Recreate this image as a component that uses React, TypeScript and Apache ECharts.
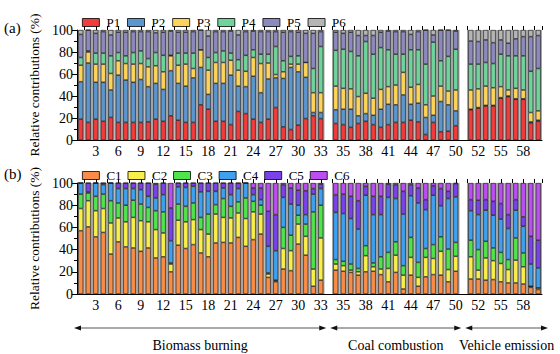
import React, { useEffect, useRef } from 'react';
import * as echarts from 'echarts';

const FONT = 'Liberation Serif';

const groupNames = ['Biomass burning', 'Coal combustion', 'Vehicle emission'];
const groupSizes = [33, 17, 10];

const pNames = ['P1', 'P2', 'P3', 'P4', 'P5', 'P6'];
const cNames = ['C1', 'C2', 'C3', 'C4', 'C5', 'C6'];
const pColors = ['#f03c3c', '#5b96cf', '#fdd45a', '#6fd49b', '#8c89bf', '#b5b5b5'];
const cColors = ['#f98d47', '#f8ef4b', '#4fe44b', '#3ea0ef', '#7a42eb', '#bc4ef1'];

// Panel (a): samples 1..60 (%)
const P1 = [19, 16, 19, 17, 20.5, 16, 16, 16, 16, 16.5, 19, 17, 22, 18, 16, 16, 32, 28, 17, 17, 14, 26, 24, 19, 16, 19, 29.5, 12, 9.5, 13.5, 19.5, 22, 19.5,
  15, 14, 11.5, 15, 17, 14, 11.5, 14, 16, 16, 18, 16.5, 5, 16, 7.5, 8, 13,
  27.5, 29, 31, 31, 38, 39.5, 37, 37, 15.5, 17];
const P2 = [34, 54, 33.5, 35.5, 25, 43, 38.5, 36.5, 39, 32, 32.5, 29, 41, 33.5, 33, 40.5, 34, 13.5, 34.5, 34.5, 45, 23, 24.5, 39, 27, 36.5, 27, 44, 56.5, 48.5, 37.5, 3, 5.5,
  12.5, 14, 16.5, 7, 7, 8.5, 16.5, 18.5, 16, 25, 14.5, 17, 15.5, 6.5, 27.5, 24, 13.5,
  0.5, 0.5, 0.5, 0.5, 0.5, 0.5, 0.5, 0.5, 1, 1];
const P3 = [15, 10, 16.5, 16.5, 15, 13, 15, 16.5, 14.5, 18, 16, 16, 13.5, 16.5, 20, 8.5, 16, 22, 19, 19, 13.5, 14.5, 14, 17, 26.5, 14.5, 3, 6, 3, 7, 13.5, 18, 18,
  21.5, 19, 18.5, 17.5, 18.5, 15.5, 18, 16, 18, 20.5, 15.5, 17, 11.5, 17.5, 14, 12.5, 19,
  17.5, 17, 17.5, 16, 10, 5.5, 9.5, 8, 8.5, 8.5];
const P4 = [7, 1, 10, 10, 16, 7.5, 7, 10.5, 11.5, 7.5, 12, 15, 0.5, 11, 10, 14, 0, 11.5, 9, 10.5, 6.5, 9.5, 14.5, 7, 8.5, 8, 25.5, 10, 7, 7.5, 0, 22, 42,
  32.5, 35.5, 34, 37, 47, 40, 38, 33.5, 28, 16.5, 34, 31.5, 37, 49, 23, 31.5, 37,
  23.5, 22.5, 21.5, 22, 29.5, 31, 29.5, 31, 37.5, 38.5];
const P5 = [21, 19, 18, 19.5, 19, 18.5, 21.5, 19, 17.5, 24.5, 18, 21, 22, 19, 19, 19.5, 18, 19.5, 19, 17.5, 20, 22.5, 21.5, 17, 20.5, 20.5, 13.5, 26, 22.5, 21.5, 26.5, 32, 13.5,
  16.5, 14.5, 17.5, 18.5, 5.5, 17, 14, 17, 20.5, 20.5, 14, 16.5, 31, 6.5, 28, 24, 16.5,
  21, 20.5, 20.5, 19, 13, 11.5, 15.5, 17.5, 31.5, 30];
const P6 = [4, 0, 3, 1.5, 4.5, 2, 2, 1.5, 1.5, 1.5, 2.5, 2, 1, 2, 2, 1.5, 0, 5.5, 1.5, 1.5, 1, 4.5, 1.5, 1, 1.5, 1.5, 1.5, 2, 1.5, 2, 3, 3, 1.5,
  2, 3, 2, 5, 5, 5, 2, 1, 1.5, 1.5, 4, 1.5, 0, 4.5, 0, 0, 1,
  10, 10.5, 9, 11.5, 9, 12, 8, 6, 6, 5];

// Panel (b): samples 1..60 (%)
const C1 = [57, 60.5, 51.5, 55.5, 36, 47, 42.5, 41.5, 38.5, 41.5, 32.5, 33.5, 20, 44, 41, 44.5, 37, 33.5, 46, 46.5, 46, 51, 43, 49, 54, 15, 11, 22.5, 21, 45, 35, 7, 12.5,
  21.5, 20.5, 19.5, 17, 20, 20.5, 17.5, 11, 19.5, 4.5, 17, 7, 15.5, 17.5, 17, 11, 20.5,
  13.5, 13.5, 12.5, 13, 11, 10, 10, 9, 6, 4];
const C2 = [20, 23.5, 23.5, 21.5, 28, 21.5, 22.5, 27.5, 27.5, 23.5, 25.5, 21.5, 7, 22.5, 24, 22.5, 21, 20.5, 26, 22.5, 22.5, 22, 25, 25, 18, 3, 1, 18.5, 18, 18, 17, 15.5, 38,
  5.5, 5, 2, 3, 14.5, 4, 5, 12, 15.5, 12.5, 16, 8, 17.5, 14.5, 21.5, 11, 13.5,
  20, 8, 20, 17, 16.5, 12, 20.5, 15.5, 1, 1.5];
const C3 = [13, 7, 13, 13, 20, 13.5, 15, 15.5, 15, 13, 17, 19, 1, 14.5, 14, 15, 11, 18, 8.5, 17, 10.5, 10, 18.5, 9.5, 8, 1, 0.5, 19, 14, 8, 11, 51.5, 29.5,
  4, 4, 5.5, 3, 9, 3.5, 11, 14.5, 12, 8.5, 18, 13.5, 8, 12.5, 13, 18.5, 12.5,
  15, 18.5, 15, 11.5, 10, 9, 20, 12.5, 0, 0];
const C4 = [10, 1, 12, 8.5, 16, 13, 15, 10.5, 13, 10, 11.5, 15.5, 20, 15.5, 17, 15, 23, 20.5, 12, 9.5, 10.5, 12, 13.5, 6, 5, 24, 26.5, 27, 28, 9, 8.5, 16, 15,
  42.5, 43, 41, 35.5, 45.5, 43.5, 38, 49.5, 39, 46.5, 37.5, 53.5, 35, 44.5, 28, 45.5, 41,
  26.5, 31.5, 28, 29.5, 30, 28, 25, 24, 20, 18];
const C5 = [0, 8, 0, 1.5, 0, 5, 5, 5, 6, 12, 12.5, 10.5, 29.5, 3.5, 4, 3, 8, 7.5, 7.5, 4.5, 10.5, 5, 0, 6, 10.5, 31.5, 32.5, 11.5, 14.5, 13.5, 21.5, 5, 4,
  16, 17.5, 20, 25.5, 8, 16.5, 16.5, 12, 12.5, 20.5, 10, 13.5, 9, 8.5, 15.5, 6.5, 12,
  10, 13, 9.5, 12.5, 14, 12.5, 9.5, 8.5, 25, 25];
const C6 = [0, 0, 0, 0, 0, 0, 0, 0, 0, 0, 1, 0, 22.5, 0, 0, 0, 0, 0, 0, 0, 0, 0, 0, 4.5, 4.5, 25.5, 28.5, 1.5, 4.5, 6.5, 7, 5, 1,
  10.5, 10, 12, 16, 3, 12, 12, 1, 1.5, 7.5, 1.5, 4.5, 15, 2.5, 5, 7.5, 0.5,
  15, 15.5, 15, 16.5, 18.5, 28.5, 15, 30.5, 48, 51.5];

const pSeriesData = [P1, P2, P3, P4, P5, P6];
const cSeriesData = [C1, C2, C3, C4, C5, C6];

// layout
const GRID_LEFT = 77;
const GRID_W = 465;
const GRID_TOPS = [30, 183];
const GRID_HEIGHTS = [110, 111];

function slotted(values: number[]): (number | string)[] {
  const out: (number | string)[] = [];
  let k = 0;
  groupSizes.forEach((n, gi) => {
    if (gi > 0) out.push('-');
    for (let i = 0; i < n; i++) out.push(values[k++]);
  });
  return out;
}

const categories: string[] = (() => {
  const out: string[] = [];
  let k = 0;
  groupSizes.forEach((n, gi) => {
    if (gi > 0) out.push('');
    for (let i = 0; i < n; i++) out.push(String(++k));
  });
  return out;
})();
const halfSlots = [...categories, ...categories].map(() => '');

export default function App() {
  const ref = useRef<HTMLDivElement>(null);
  useEffect(() => {
    if (!ref.current) return;
    const chart = echarts.init(ref.current, undefined, { renderer: 'svg' });
    const nSlots = categories.length;
    const slotW = GRID_W / nSlots;

    const xAxes: any[] = [];
    const yAxes: any[] = [];
    const series: any[] = [];
    [0, 1].forEach((gi) => {
      xAxes.push({
        type: 'category', gridIndex: gi, data: categories, boundaryGap: true,
        axisLine: { lineStyle: { color: '#000', width: 1 } },
        axisTick: { show: false },
        axisLabel: { interval: (i: number) => i % 3 === 2, fontSize: 14, color: '#000', fontFamily: FONT, margin: 4 },
        z: 5,
      });
      xAxes.push({
        type: 'category', gridIndex: gi, data: halfSlots, boundaryGap: true,
        axisLine: { show: false },
        axisTick: { show: true, interval: (i: number) => i % 3 === 2, length: 4, lineStyle: { color: '#000', width: 1 } },
        axisLabel: { show: false },
      });
      xAxes.push({ type: 'category', gridIndex: gi, data: categories, show: false });
      yAxes.push({
        type: 'value', gridIndex: gi, min: 0, max: 100, interval: 20,
        axisLine: { show: true, lineStyle: { color: '#000', width: 1 } },
        axisTick: { show: true, length: 5, lineStyle: { color: '#000' } },
        minorTick: { show: true, splitNumber: 2, length: 3, lineStyle: { color: '#000' } },
        splitLine: { show: false },
        axisLabel: { fontSize: 14, color: '#000', fontFamily: FONT, margin: 4 },
        name: 'Relative contributions (%)', nameLocation: 'middle', nameGap: 33,
        nameTextStyle: { fontSize: 13.5, color: '#000', fontFamily: FONT },
        z: 5,
      });
      series.push({
        type: 'bar', xAxisIndex: gi * 3 + 2, yAxisIndex: gi, silent: true,
        data: categories.map((c) => (c === '' ? '-' : 100)),
        barWidth: '100%', itemStyle: { color: '#a4a4a4' }, z: 1,
      });
      const names = gi === 0 ? pNames : cNames;
      const colors = gi === 0 ? pColors : cColors;
      const data = gi === 0 ? pSeriesData : cSeriesData;
      names.forEach((name, k) => {
        series.push({
          type: 'bar', name, stack: 'panel' + gi, xAxisIndex: gi * 3, yAxisIndex: gi,
          data: slotted(data[k]), barWidth: 5,
          itemStyle: { color: colors[k], borderColor: '#1a1a1a', borderWidth: 0.6 },
          z: 2,
        });
      });
    });

    // group annotation arrows
    const gapCenters: number[] = [];
    let s = 0;
    groupSizes.forEach((n, gi) => {
      s += n;
      if (gi < groupSizes.length - 1) {
        gapCenters.push(GRID_LEFT + (s + 0.5) * slotW);
        s += 1;
      }
    });
    const starts = [GRID_LEFT - 3, gapCenters[0] + 2, gapCenters[1] + 2];
    const ends = [gapCenters[0] - 2, gapCenters[1] - 2, GRID_LEFT + GRID_W + 6];
    const ARROW_Y = 328;
    const graphic: any[] = [
      { type: 'text', left: 4, top: 20, style: { text: '(a)', fontSize: 15, fontFamily: FONT, fill: '#000' } },
      { type: 'text', left: 4, top: 166, style: { text: '(b)', fontSize: 15, fontFamily: FONT, fill: '#000' } },
    ];
    groupNames.forEach((gname, gi) => {
      const x1 = starts[gi];
      const x2 = ends[gi];
      graphic.push({ type: 'line', shape: { x1: x1 + 3, y1: ARROW_Y, x2: x2 - 3, y2: ARROW_Y }, style: { stroke: '#555', lineWidth: 1 } });
      graphic.push({ type: 'polygon', shape: { points: [[x1, ARROW_Y], [x1 + 7, ARROW_Y - 2.5], [x1 + 7, ARROW_Y + 2.5]] }, style: { fill: '#111' } });
      graphic.push({ type: 'polygon', shape: { points: [[x2, ARROW_Y], [x2 - 7, ARROW_Y - 2.5], [x2 - 7, ARROW_Y + 2.5]] }, style: { fill: '#111' } });
      graphic.push({
        type: 'text', x: (x1 + x2) / 2, y: 345,
        style: { text: gname, fontSize: 14, fontFamily: FONT, fill: '#000', align: 'center', verticalAlign: 'middle' },
      });
    });

    const legendBase = {
      left: 82, itemWidth: 17, itemHeight: 8, icon: 'rect', selectedMode: false, padding: 0,
      textStyle: { fontSize: 13, fontFamily: FONT, color: '#000', padding: [0, 0, 0, 2] },
      itemStyle: { borderColor: '#000', borderWidth: 0.8 },
    };

    chart.setOption({
      animation: false,
      backgroundColor: '#fff',
      textStyle: { fontFamily: FONT },
      grid: [0, 1].map((gi) => ({ left: GRID_LEFT, top: GRID_TOPS[gi], width: GRID_W, height: GRID_HEIGHTS[gi] })),
      legend: [
        { ...legendBase, data: pNames, top: 16, itemGap: 7 },
        { ...legendBase, data: cNames, top: 169, itemGap: 6 },
      ],
      xAxis: xAxes,
      yAxis: yAxes,
      series,
      graphic,
    });
    return () => chart.dispose();
  }, []);
  return <div ref={ref} style={{ width: 560, height: 354, position: 'absolute', left: 0, top: 0 }} />;
}
